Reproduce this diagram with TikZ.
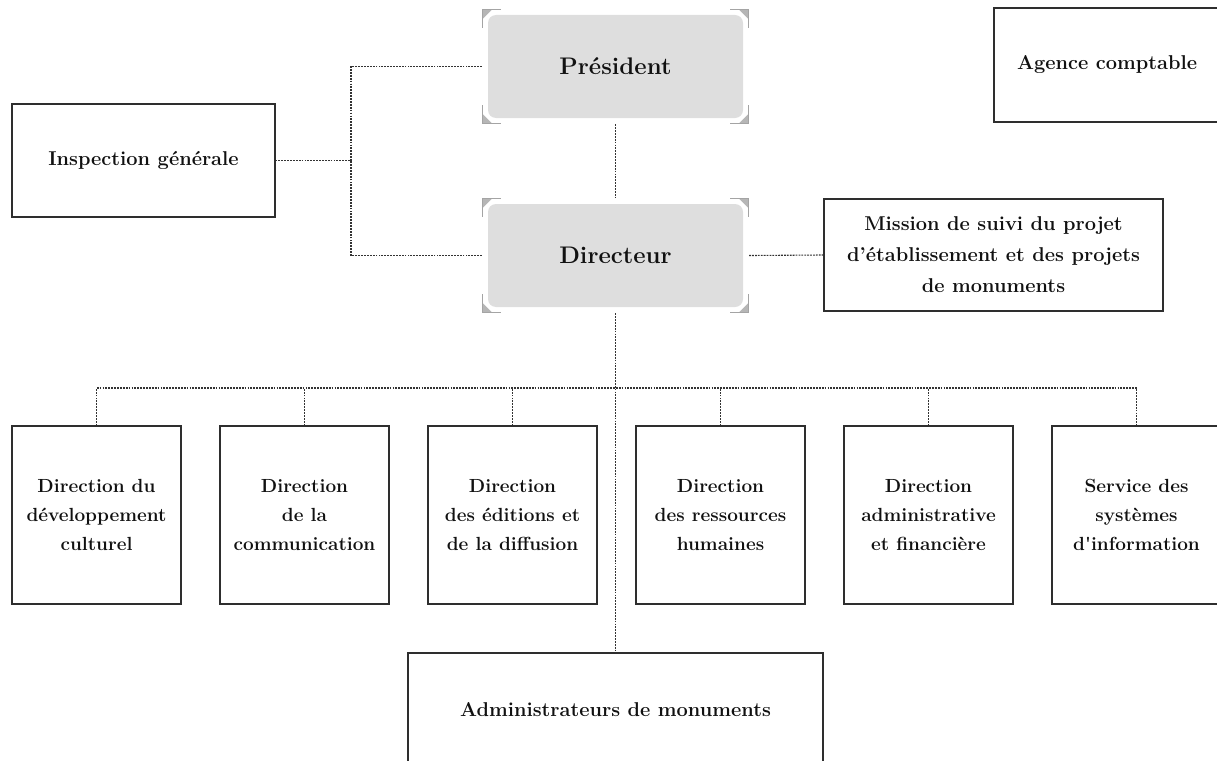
\documentclass[tikz,border=0pt]{standalone}
\usepackage{fontspec}
\definecolor{boxgray}{HTML}{DEDEDE}
\definecolor{brkgray}{HTML}{A4A4A4}
\definecolor{lineclr}{HTML}{2E2E2E}
\definecolor{dotclr}{HTML}{333333}
\definecolor{txt}{HTML}{111111}
\tikzset{
 unit/.style={draw=lineclr, line width=1.1pt, fill=white, inner sep=0pt, align=center, text=txt,
   font=\fontsize{20}{31}\selectfont\bfseries},
 head/.style={fill=boxgray, rounded corners=8pt, minimum width=255pt, minimum height=103pt,
   inner sep=0pt, text=txt, font=\fontsize{24}{29}\selectfont\bfseries},
 dirbox/.style={unit, minimum width=169pt, minimum height=178pt,
   font=\fontsize{19}{29}\selectfont\bfseries},
 conn/.style={draw=dotclr, line width=1.1pt, dash pattern=on 1.8pt off 1.1pt},
 brkline/.style={draw=brkgray, line width=1.3pt},
 brkfill/.style={fill=brkgray!80},
}
\newcommand{\cornermark}[3]{%
  \begin{scope}[shift={(#1)}, xscale=#2, yscale=#3]
    \fill[brkfill] (-5,-5) -- (4,-5) -- (-5,4) -- cycle;
    \draw[brkline] (-5,13) -- (-5,-5) -- (13,-5);
  \end{scope}}
\begin{document}
\begin{tikzpicture}[x=1pt,y=-1pt]
\useasboundingbox (0,0) rectangle (1217,760);
% heads
\node[head] (pres) at (615.5,66.5) {Président};
\node[head] (dir) at (615.5,255.5) {Directeur};
\foreach \n in {pres,dir}{
  \cornermark{\n.north west}{1}{1}
  \cornermark{\n.north east}{-1}{1}
  \cornermark{\n.south west}{1}{-1}
  \cornermark{\n.south east}{-1}{-1}
}
% side units
\node[unit, minimum width=263pt, minimum height=113pt] (insp) at (143.5,160.5) {Inspection générale};
\node[unit, minimum width=339pt, minimum height=112pt] (miss) at (993.5,255)
  {Mission de suivi du projet\\d’établissement et des projets\\de monuments};
\node[unit, minimum width=226pt, minimum height=114pt] (agence) at (1107,65) {Agence comptable};
% directions
\node[dirbox] (d1) at (96.5,515) {Direction du\\développement\\culturel};
\node[dirbox] (d2) at (304.5,515) {Direction\\de la\\communication};
\node[dirbox] (d3) at (512.5,515) {Direction\\des éditions et\\de la diffusion};
\node[dirbox] (d4) at (720.5,515) {Direction\\des ressources\\humaines};
\node[dirbox] (d5) at (928.5,515) {Direction\\administrative\\et financière};
\node[dirbox] (d6) at (1136.5,515) {Service des\\systèmes\\d\textquotesingle information};
\node[unit, minimum width=415pt, minimum height=113pt] (adm) at (615.5,709.5) {Administrateurs de monuments};
% connectors
\coordinate (j1) at (351,160.5);
\coordinate (bus) at (615.5,388);
\draw[conn] (insp.east) -- (j1);
\draw[conn] ([xshift=-6pt]pres.west) -| (j1);
\draw[conn] ([xshift=-6pt]dir.west) -| (j1);
\draw[conn] ([yshift=-6pt]pres.south) -- ([yshift=6pt]dir.north);
\draw[conn] ([xshift=6pt]dir.east) -- (miss.west);
\draw[conn] ([yshift=-6pt]dir.south) -- (adm.north);
\draw[conn] (d1.north) -- (d1.north |- bus) -- (d6.north |- bus) -- (d6.north);
\foreach \i in {2,...,5}{\draw[conn] (d\i.north) -- (d\i.north |- bus);}
\end{tikzpicture}
\end{document}
